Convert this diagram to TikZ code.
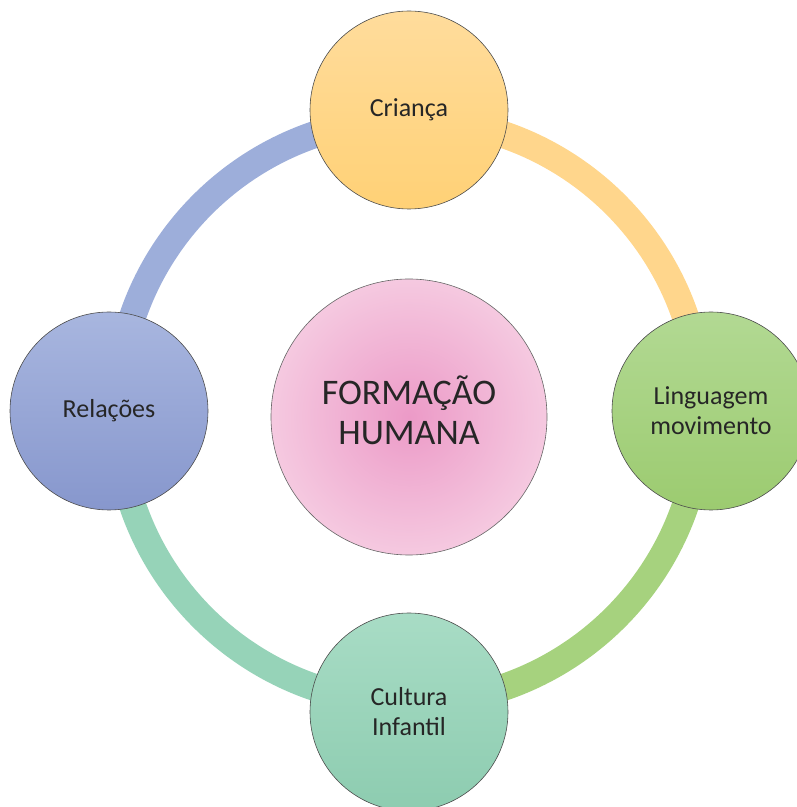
\documentclass[tikz,border=0pt]{standalone}
\usepackage{fontspec}
\setmainfont{Carlito}
\usepackage{tikz}
\usetikzlibrary{backgrounds}
\definecolor{crorange}{HTML}{FFD68C}
\definecolor{crtop}{HTML}{FFDC9C}
\definecolor{crbot}{HTML}{FFD176}
\definecolor{lmgreen}{HTML}{A6D27E}
\definecolor{lmtop}{HTML}{B2D993}
\definecolor{lmbot}{HTML}{9CCB70}
\definecolor{cfteal}{HTML}{96D3B8}
\definecolor{cftop}{HTML}{A8DCC5}
\definecolor{cfbot}{HTML}{8DCCB0}
\definecolor{rlblue}{HTML}{9DAEDA}
\definecolor{rltop}{HTML}{A8B6DF}
\definecolor{rlbot}{HTML}{8797CD}
\definecolor{hubin}{HTML}{EC9AC7}
\definecolor{hubout}{HTML}{F5C9E0}
\tikzset{
  topicnode/.style={circle,draw=black!70,line width=0.6pt,minimum size=198pt,inner sep=0pt,
    align=center,font=\fontsize{26}{30}\selectfont,text=black!85},
  crnode/.style={topicnode,top color=crtop,bottom color=crbot},
  lmnode/.style={topicnode,top color=lmtop,bottom color=lmbot},
  cfnode/.style={topicnode,top color=cftop,bottom color=cfbot},
  rlnode/.style={topicnode,top color=rltop,bottom color=rlbot},
  hubnode/.style={circle,draw=black!60,line width=0.6pt,minimum size=276pt,inner sep=0pt,
    inner color=hubin,outer color=hubout},
  hubtext/.style={align=center,inner sep=0pt,font=\fontsize{36}{40}\selectfont,text=black!85},
  ringarc/.style={line width=27pt},
}

\begin{document}
\begin{tikzpicture}[x=1pt,y=1pt]
  \useasboundingbox (0,0) rectangle (797,807);
  \node[hubnode] (nHub) at (409,390) {};
  \node[hubtext] (nHubText) at ([yshift=7pt]nHub.center) {FORMAÇÃO\\HUMANA};
  \node[crnode] (nCr) at (409,697) {Criança};
  \node[lmnode] (nLm) at (711,396) {Linguagem\\movimento};
  \node[cfnode] (nCf) at (409,95) {Cultura\\Infantil};
  \node[rlnode] (nRl) at (109,396) {Relações};
  \begin{scope}[on background layer]
    \draw[ringarc,crorange] (nCr.center) ++(0,-9) arc[start angle=90,end angle=0,radius=292];
    \draw[ringarc,lmgreen] (nLm.center) ++(-10,0) arc[start angle=0,end angle=-90,radius=292];
    \draw[ringarc,cfteal] (nCf.center) ++(0,9) arc[start angle=-90,end angle=-180,radius=292];
    \draw[ringarc,rlblue] (nRl.center) ++(8,0) arc[start angle=180,end angle=90,radius=292];
  \end{scope}
\end{tikzpicture}
\end{document}
